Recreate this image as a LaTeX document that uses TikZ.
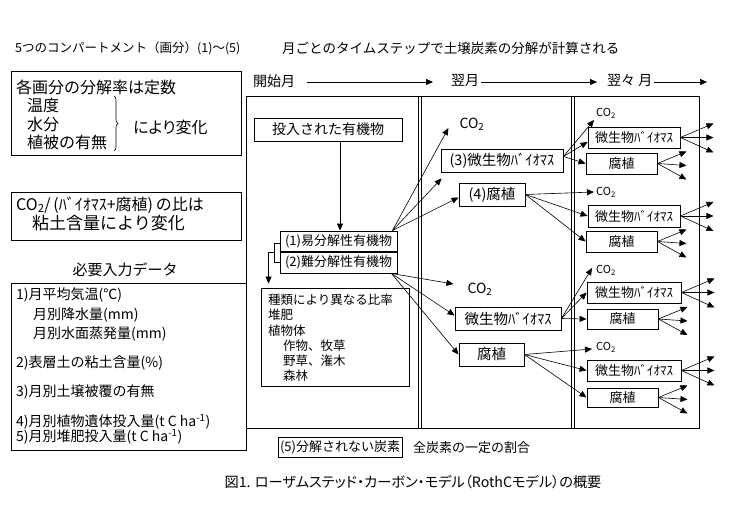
\documentclass[tikz,border=0pt]{standalone}
\usepackage{fontspec}
\setmainfont{Noto Sans CJK JP}
\newfontfamily\pj{Noto Sans CJK JP}[RawFeature={+palt}]
\usetikzlibrary{arrows.meta,decorations.pathreplacing,calc}
\newcommand\fs[1]{\fontsize{#1}{#1}\selectfont}
\newcommand\bx[7]{\node[box, minimum width={#4-#2}, minimum height={#5-#3}, font={\fs{#6}}] (#1) at ({(#2+#4)/2},{(#3+#5)/2}) {#7};}
\begin{document}
\begin{tikzpicture}[x=1pt,y=-1pt,
  box/.style={draw, line width=0.9pt, inner sep=0pt, align=center},
  lbl/.style={inner sep=0pt, anchor=west},
  arr/.style={line width=0.6pt, -{Triangle[length=7pt,width=6pt]}},
  thinl/.style={line width=0.6pt}]
\useasboundingbox (0,0) rectangle (731,518);
\fill[white] (0,0) rectangle (731,518);
% header
\node[lbl, font={\fs{12.5}}] (hd1) at (15,48) {5つのコンパートメント（画分）(1)〜(5)};
\node[lbl, font={\fs{13.5}}] (hd2) at (282,48) {月ごとのタイムステップで土壌炭素の分解が計算される};
% left box 1
\bx{L1}{11}{71}{241}{155}{16}{}
\node[lbl,font={\fs{16}}] (l1a) at (16,87) {各画分の分解率は定数};
\node[lbl,font={\fs{16}}] (l1b) at (27,105) {温度};
\node[lbl,font={\fs{16}}] (l1c) at (27,124) {水分};
\node[lbl,font={\fs{16}}] (l1d) at (27,142) {植被の有無};
\draw[decorate, decoration={brace, amplitude=4pt}, thinl] (114,96) -- (114,151);
\node[lbl,font={\pj\fs{16}}] (l1e) at (133,127) {により変化};
% left box 2
\bx{L2}{11}{192}{241}{240}{16}{}
\node[lbl,font={\fs{16}}] (l2a) at (16,205) {CO\textsubscript{2}/\,(ﾊﾞｲｵﾏｽ+腐植)\,の比は};
\node[lbl,font={\fs{17}}] (l2b) at (32,223) {粘土含量により変化};
% input data
\node[font={\fs{15}}, inner sep=0pt] (need) at (125,270) {必要入力データ};
\bx{L3}{11}{283}{246}{450}{14}{}
\node[lbl,font={\fs{14}}] (i1) at (16,295) {1)月平均気温(℃)};
\node[lbl,font={\fs{14}}] (i1b) at (33,315) {月別降水量(mm)};
\node[lbl,font={\fs{14}}] (i1c) at (33,334) {月別水面蒸発量(mm)};
\node[lbl,font={\fs{14}}] (i2) at (16,363) {2)表層土の粘土含量(\%)};
\node[lbl,font={\fs{14}}] (i3) at (16,392) {3)月別土壌被覆の有無};
\node[lbl,font={\fs{14}}] (i4) at (16,422) {4)月別植物遺体投入量(t C ha\textsuperscript{-1})};
\node[lbl,font={\fs{14}}] (i5) at (16,437) {5)月別堆肥投入量(t C ha\textsuperscript{-1})};
% main frame
\draw[line width=0.9pt] (246,96) rectangle (699,428);
\draw[thinl] (418.5,96) -- (418.5,428);
\draw[thinl] (421,96) -- (421,428);
\draw[thinl] (571,96) -- (571,428);
\draw[thinl] (574.5,96) -- (574.5,428);
% month header
\node[lbl,font={\fs{14}}] (m0) at (253,81) {開始月};
\node[lbl,font={\fs{14}}] (m1) at (451,81) {翌月};
\node[lbl,font={\fs{14}}] (m2) at (607,81) {翌々 月};
\coordinate (mend) at (707,82);
\draw[arr] ([xshift=12pt,yshift=-1pt]m0.east) -- ([xshift=-18pt,yshift=-1pt]m1.west);
\draw[arr] ([xshift=2pt,yshift=-1pt]m1.east) -- ([xshift=-10pt,yshift=-1pt]m2.west);
\draw[arr] ([xshift=1pt,yshift=-1pt]m2.east) -- (mend);
% column 1
\bx{inbox}{254}{118}{402}{141}{14}{投入された有機物}
\bx{b1}{280}{231}{397}{252}{13}{(1)易分解性有機物}
\bx{b2}{280}{252}{397}{273}{13}{(2)難分解性有機物}
\draw[line width=2pt] (b1.south west) -- (b1.south east);
\coordinate (ax) at (340,0);
\draw[arr] (inbox.south -| ax) -- (b1.north -| ax);
\bx{kind}{261}{288}{409}{386}{13}{}
\node[anchor=north west, inner sep=0pt, align=left, font={\fontsize{12.5}{15.2}\selectfont}] (kindtxt) at (268,294)
  {種類により異なる比率\\堆肥\\植物体\\\hspace*{15pt}作物、牧草\\\hspace*{15pt}野草、潅木\\\hspace*{15pt}森林};
\draw[thinl] ([yshift=-1.5pt]b1.west) -- ++(-5,0) coordinate (bk1) -- (bk1 |- b2.west) -- (b2.west);
\coordinate (bkm) at ($(bk1)!0.5!(bk1 |- b2.west)$);
\draw[arr, shorten >=4pt] (bkm) -- ++(-6,0) coordinate (bk2) -- (bk2 |- kind.north);
% column 2
\node[font={\fs{14}}, inner sep=0pt] (co1) at (472,124) {CO\textsubscript{2}};
\bx{b3}{441}{149}{563}{172}{14.5}{(3)微生物ﾊﾞｲｵﾏｽ}
\bx{b4}{459}{183}{525}{206}{14.5}{(4)腐植}
\node[font={\fs{14}}, inner sep=0pt] (co2) at (480,289) {CO\textsubscript{2}};
\bx{mb2}{455}{307}{561}{330}{14.5}{微生物ﾊﾞｲｵﾏｽ}
\bx{h2}{459}{343}{524}{366}{14.5}{腐植}
\draw[arr] ([xshift=-5pt]b1.north east) -- ([shift={(-11pt,-4pt)}]co1.west);
\draw[arr] ([xshift=-5pt]b1.north east) -- ([shift={(1pt,-6pt)}]b3.south west);
\draw[arr] ([xshift=-5pt]b1.north east) -- ([yshift=-3pt]b4.west);
\draw[arr] ([xshift=-6pt]b2.south east) -- ([shift={(-14pt,5pt)}]co2.west);
\draw[arr] ([xshift=-6pt]b2.south east) -- ([yshift=3pt]mb2.west);
\draw[arr] ([xshift=-6pt]b2.south east) -- (h2.west);
% column 3
\node[font={\fs{11}}, inner sep=0pt] (coA) at (606,113) {CO\textsubscript{2}};
\bx{mbA}{588}{127}{680}{148}{13}{微生物ﾊﾞｲｵﾏｽ}
\bx{hA}{586}{153}{657}{174}{13}{腐植}
\node[font={\fs{11}}, inner sep=0pt] (coB) at (606,192) {CO\textsubscript{2}};
\bx{mbB}{588}{205}{680}{227}{13}{微生物ﾊﾞｲｵﾏｽ}
\bx{hB}{586}{231}{657}{252}{13}{腐植}
\node[font={\fs{11}}, inner sep=0pt] (coC) at (606,270) {CO\textsubscript{2}};
\bx{mbC}{587}{282}{681}{303}{13}{微生物ﾊﾞｲｵﾏｽ}
\bx{hC}{587}{309}{658}{329}{13}{腐植}
\node[font={\fs{11}}, inner sep=0pt] (coD) at (606,347) {CO\textsubscript{2}};
\bx{mbD}{587}{360}{681}{381}{13}{微生物ﾊﾞｲｵﾏｽ}
\bx{hD}{587}{388}{658}{407}{13}{腐植}
\draw[arr] ([yshift=4pt]b3.east) -- ([shift={(-2pt,-7pt)}]coA.west);
\draw[arr] ([yshift=4pt]b3.east) -- ([yshift=-4.5pt]mbA.west);
\draw[arr] ([yshift=4pt]b3.east) -- (hA.west);
\draw[arr] (b4.east) -- ([xshift=-2pt]coB.west);
\draw[arr] (b4.east) -- (mbB.west);
\draw[arr] (b4.east) -- (hB.west);
\draw[arr] (mb2.east) -- ([xshift=-4pt,yshift=2pt]coC.west);
\draw[arr] (mb2.east) -- (mbC.west);
\draw[arr] (mb2.east) -- (hC.west);
\draw[arr] (h2.east) -- ([xshift=-4pt,yshift=-2pt]coD.west);
\draw[arr] (h2.east) -- (mbD.west);
\draw[arr] (h2.east) -- (hD.west);
% outgoing fans
\foreach \n in {mbA,mbB,mbC,mbD}{
  \coordinate (\n-o1) at ([shift={(33pt,14pt)}]\n.east);
  \coordinate (\n-o2) at ([shift={(33pt,0pt)}]\n.east);
  \coordinate (\n-o3) at ([shift={(33pt,-15pt)}]\n.east);
  \draw[arr] (\n.east) -- (\n-o1);
  \draw[arr] (\n.east) -- (\n-o2);
  \draw[arr] (\n.east) -- (\n-o3);
}
\foreach \n in {hA,hB,hC,hD}{
  \coordinate (\n-o1) at ([shift={(29pt,12pt)}]\n.east);
  \coordinate (\n-o2) at ([shift={(29pt,-2pt)}]\n.east);
  \coordinate (\n-o3) at ([shift={(29pt,-16pt)}]\n.east);
  \draw[arr] (\n.east) -- (\n-o1);
  \draw[arr] (\n.east) -- (\n-o2);
  \draw[arr] (\n.east) -- (\n-o3);
}
% bottom
\bx{b5}{278}{437}{402}{457}{13}{(5)分解されない炭素}
\node[lbl,font={\fs{13}}] (all) at (413,448) {全炭素の一定の割合};
\node[font={\pj\fs{14.2}}, inner sep=0pt] (title) at (413,482) {図1. ローザムステッド・カーボン・モデル（RothCモデル）の概要};
\end{tikzpicture}
\end{document}
